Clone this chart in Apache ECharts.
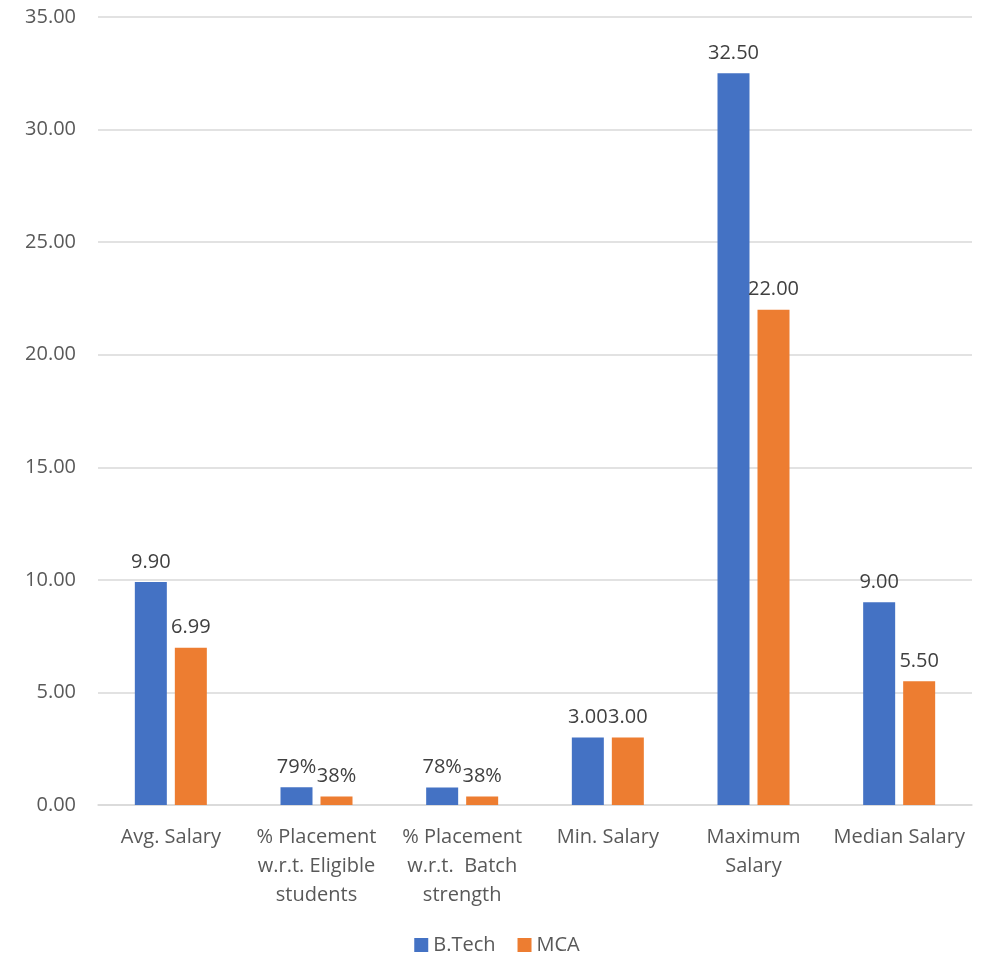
<!DOCTYPE html>
<html><head><meta charset="utf-8">
<script src="https://cdn.jsdelivr.net/npm/echarts@6/dist/echarts.min.js"></script>
<style>html,body{margin:0;padding:0;background:#fff}#c{width:994px;height:958px}</style>
</head><body><div id="c"></div>
<script>
const categories = ["Avg. Salary", "% Placement\nw.r.t. Eligible\nstudents", "% Placement\nw.r.t.  Batch\nstrength", "Min. Salary", "Maximum\nSalary", "Median Salary"];
const btech = [9.90, 0.79, 0.78, 3.00, 32.50, 9.00];
const mca = [6.99, 0.38, 0.38, 3.00, 22.00, 5.50];
const percentCategories = [1, 2];
const seriesNames = ["B.Tech", "MCA"];
const colors = ["#4472C4", "#ED7D31"];
const font = "'Open Sans', 'Noto Sans', sans-serif";

function fmt(p) {
  return percentCategories.includes(p.dataIndex) ? Math.round(p.value * 100) + '%' : p.value.toFixed(2);
}
const chart = echarts.init(document.getElementById('c'));
chart.setOption({
  animation: false,
  grid: { left: 98, right: 22, top: 17, bottom: 153, containLabel: false },
  legend: {
    bottom: -2, left: 'center', itemWidth: 14, itemHeight: 14, itemGap: 22,
    icon: 'rect',
    textStyle: { fontFamily: font, fontSize: 20, color: '#595959' },
    data: seriesNames
  },
  xAxis: {
    type: 'category', data: categories,
    axisLine: { lineStyle: { color: '#d9d9d9', width: 1.5 } },
    axisTick: { show: false },
    axisLabel: { interval: 0, margin: 18, fontFamily: font, fontSize: 20, color: '#595959', lineHeight: 29 }
  },
  yAxis: {
    type: 'value', min: 0, max: 35, interval: 5,
    axisLine: { show: false }, axisTick: { show: false },
    splitLine: { lineStyle: { color: '#d9d9d9', width: 1.5 } },
    axisLabel: { margin: 22, fontFamily: font, fontSize: 20, color: '#595959', formatter: v => v.toFixed(2) }
  },
  series: [
    { name: seriesNames[0], type: 'bar', data: btech, barWidth: 32, barGap: '25%',
      itemStyle: { color: colors[0] },
      label: { show: true, position: 'top', distance: 10, fontFamily: font, fontSize: 20, color: '#404040', formatter: fmt } },
    { name: seriesNames[1], type: 'bar', data: mca, barWidth: 32,
      itemStyle: { color: colors[1] },
      label: { show: true, position: 'top', distance: 10, fontFamily: font, fontSize: 20, color: '#404040', formatter: fmt } }
  ]
});
</script></body></html>
